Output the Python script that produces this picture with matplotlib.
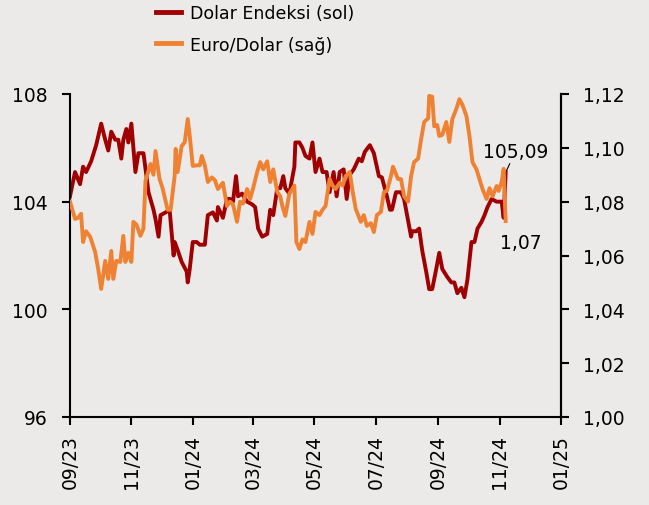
import matplotlib
matplotlib.use("Agg")
import matplotlib.pyplot as plt
import matplotlib.dates as mdates
import pandas as pd

# Dolar Endeksi (sol eksen)
dxy_dates = [
    "2023-09-01", "2023-09-06", "2023-09-11", "2023-09-14", "2023-09-17", "2023-09-22",
    "2023-09-27", "2023-10-02", "2023-10-06", "2023-10-09", "2023-10-12", "2023-10-16",
    "2023-10-19", "2023-10-22", "2023-10-24", "2023-10-27", "2023-10-29", "2023-11-01",
    "2023-11-05", "2023-11-08", "2023-11-13", "2023-11-16", "2023-11-18", "2023-11-23",
    "2023-11-25", "2023-11-28", "2023-11-30", "2023-12-05", "2023-12-09", "2023-12-13",
    "2023-12-14", "2023-12-17", "2023-12-21", "2023-12-26", "2023-12-27", "2023-12-29",
    "2024-01-01", "2024-01-05", "2024-01-08", "2024-01-13", "2024-01-16", "2024-01-21",
    "2024-01-25", "2024-01-26", "2024-01-31", "2024-02-04", "2024-02-07", "2024-02-10",
    "2024-02-13", "2024-02-15", "2024-02-19", "2024-02-24", "2024-02-29", "2024-03-03",
    "2024-03-06", "2024-03-10", "2024-03-15", "2024-03-18", "2024-03-21", "2024-03-25",
    "2024-03-28", "2024-03-31", "2024-04-02", "2024-04-06", "2024-04-11", "2024-04-12",
    "2024-04-16", "2024-04-19", "2024-04-22", "2024-04-26", "2024-04-29", "2024-05-02",
    "2024-05-06", "2024-05-09", "2024-05-13", "2024-05-16", "2024-05-20", "2024-05-23",
    "2024-05-26", "2024-05-30", "2024-06-02", "2024-06-05", "2024-06-09", "2024-06-14",
    "2024-06-17", "2024-06-20", "2024-06-25", "2024-06-29", "2024-07-04", "2024-07-07",
    "2024-07-12", "2024-07-15", "2024-07-17", "2024-07-21", "2024-07-26", "2024-07-29",
    "2024-08-01", "2024-08-05", "2024-08-06", "2024-08-10", "2024-08-13", "2024-08-16",
    "2024-08-20", "2024-08-23", "2024-08-26", "2024-08-30", "2024-09-02", "2024-09-05",
    "2024-09-10", "2024-09-14", "2024-09-17", "2024-09-20", "2024-09-24", "2024-09-27",
    "2024-09-30", "2024-10-04", "2024-10-07", "2024-10-10", "2024-10-14", "2024-10-17",
    "2024-10-20", "2024-10-24", "2024-10-29", "2024-11-03", "2024-11-05", "2024-11-07",
]
dxy_values = [
    104.2, 105.1, 104.65, 105.3, 105.1, 105.5,
    106.1, 106.9, 106.3, 105.9, 106.6, 106.3,
    106.3, 105.6, 106.3, 106.7, 106.2, 106.9,
    105.1, 105.8, 105.8, 104.95, 104.35, 103.7,
    103.35, 102.7, 103.5, 103.6, 103.7, 102.0,
    102.5, 102.2, 101.76, 101.4, 101.0, 101.5,
    102.5, 102.5, 102.4, 102.4, 103.5, 103.6,
    103.3, 103.8, 103.4, 104.1, 104.1, 104.0,
    104.95, 104.2, 104.3, 104.0, 103.9, 103.8,
    103.0, 102.7, 102.8, 103.7, 103.5, 104.5,
    104.5, 104.95, 104.5, 104.3, 105.3, 106.2,
    106.2, 106.0, 105.7, 105.6, 106.2, 105.1,
    105.6, 105.1, 105.1, 104.35, 105.1, 104.2,
    105.1, 105.2, 104.1, 105.0, 105.2, 105.6,
    105.5, 105.85, 106.1, 105.8, 104.95, 104.9,
    104.2, 103.7, 103.7, 104.35, 104.35, 104.1,
    103.5, 102.7, 102.9, 102.9, 103.0, 102.2,
    101.4, 100.75, 100.75, 101.5, 102.1, 101.5,
    101.2, 101.0, 101.0, 100.6, 100.8, 100.45,
    101.1, 102.5, 102.5, 103.0, 103.25, 103.5,
    103.8, 104.1, 104.0, 104.0, 103.4, 105.09,
]

# Euro/Dolar (sag eksen)
eur_dates = [
    "2023-09-01", "2023-09-06", "2023-09-09", "2023-09-12", "2023-09-14", "2023-09-17",
    "2023-09-21", "2023-09-26", "2023-09-29", "2023-10-02", "2023-10-06", "2023-10-09",
    "2023-10-12", "2023-10-14", "2023-10-17", "2023-10-21", "2023-10-24", "2023-10-26",
    "2023-10-29", "2023-11-01", "2023-11-03", "2023-11-06", "2023-11-10", "2023-11-13",
    "2023-11-15", "2023-11-20", "2023-11-23", "2023-11-25", "2023-11-29", "2023-12-02",
    "2023-12-07", "2023-12-10", "2023-12-14", "2023-12-15", "2023-12-17", "2023-12-21",
    "2023-12-24", "2023-12-27", "2023-12-29", "2024-01-01", "2024-01-05", "2024-01-08",
    "2024-01-10", "2024-01-13", "2024-01-16", "2024-01-20", "2024-01-23", "2024-01-26",
    "2024-01-31", "2024-02-04", "2024-02-07", "2024-02-10", "2024-02-14", "2024-02-17",
    "2024-02-20", "2024-02-24", "2024-02-27", "2024-03-01", "2024-03-05", "2024-03-08",
    "2024-03-11", "2024-03-15", "2024-03-18", "2024-03-21", "2024-03-25", "2024-03-28",
    "2024-03-30", "2024-04-02", "2024-04-06", "2024-04-09", "2024-04-11", "2024-04-13",
    "2024-04-16", "2024-04-19", "2024-04-22", "2024-04-26", "2024-04-29", "2024-05-02",
    "2024-05-06", "2024-05-09", "2024-05-12", "2024-05-16", "2024-05-19", "2024-05-22",
    "2024-05-26", "2024-05-29", "2024-06-01", "2024-06-05", "2024-06-08", "2024-06-11",
    "2024-06-16", "2024-06-19", "2024-06-22", "2024-06-26", "2024-06-29", "2024-07-02",
    "2024-07-06", "2024-07-09", "2024-07-12", "2024-07-16", "2024-07-18", "2024-07-23",
    "2024-07-26", "2024-07-29", "2024-08-02", "2024-08-05", "2024-08-08", "2024-08-12",
    "2024-08-15", "2024-08-18", "2024-08-22", "2024-08-23", "2024-08-26", "2024-08-28",
    "2024-08-31", "2024-09-02", "2024-09-05", "2024-09-09", "2024-09-12", "2024-09-15",
    "2024-09-19", "2024-09-22", "2024-09-25", "2024-09-29", "2024-10-02", "2024-10-05",
    "2024-10-09", "2024-10-12", "2024-10-15", "2024-10-19", "2024-10-22", "2024-10-25",
    "2024-10-29", "2024-10-31", "2024-11-03", "2024-11-05", "2024-11-07",
]
eur_values = [
    1.080, 1.0736, 1.074, 1.0755, 1.065, 1.069,
    1.067, 1.0613, 1.055, 1.0476, 1.058, 1.0513,
    1.0617, 1.0513, 1.058, 1.0576, 1.0673, 1.0576,
    1.061, 1.0576, 1.0725, 1.0715, 1.0673, 1.070,
    1.0877, 1.094, 1.090, 1.0988, 1.0884, 1.085,
    1.077, 1.077, 1.0895, 1.0996, 1.091, 1.1007,
    1.102, 1.1107, 1.1044, 1.0933, 1.0935, 1.0935,
    1.097, 1.0935, 1.0873, 1.089, 1.088, 1.0847,
    1.087, 1.0784, 1.080, 1.079, 1.0725, 1.080,
    1.0793, 1.0847, 1.081, 1.085, 1.091, 1.0947,
    1.092, 1.095, 1.0873, 1.092, 1.0836, 1.082,
    1.0784, 1.0747, 1.083, 1.0847, 1.086, 1.065,
    1.0624, 1.066, 1.065, 1.0725, 1.068, 1.0762,
    1.075, 1.077, 1.0784, 1.0884, 1.086, 1.0847,
    1.087, 1.086, 1.0895, 1.091, 1.0836, 1.0773,
    1.0725, 1.075, 1.071, 1.072, 1.0687, 1.075,
    1.0762, 1.0836, 1.084, 1.0895, 1.093, 1.0884,
    1.0884, 1.082, 1.080, 1.0895, 1.0947, 1.096,
    1.1033, 1.1096, 1.111, 1.1193, 1.119, 1.108,
    1.1085, 1.1044, 1.1048, 1.1096, 1.1022, 1.1107,
    1.1145, 1.1181, 1.116, 1.1118, 1.1044, 1.0947,
    1.092, 1.0884, 1.0847, 1.081, 1.085, 1.082,
    1.0858, 1.084, 1.0873, 1.0922, 1.0728,
]

left_ticks = [96, 100, 104, 108]
right_ticks = [1.00, 1.02, 1.04, 1.06, 1.08, 1.10, 1.12]
x_ticks = ["2023-09-01", "2023-11-01", "2024-01-01", "2024-03-01", "2024-05-01",
           "2024-07-01", "2024-09-01", "2024-11-01", "2025-01-01"]

bg = "#ECEAE9"
red = "#A00000"
orange = "#EF8133"

plt.rcParams["font.family"] = ["DejaVu Sans"]

fig = plt.figure(figsize=(6.49, 5.06), dpi=100, facecolor=bg)
ax = fig.add_axes([70 / 649, 1 - 418 / 506, (561 - 70) / 649, (418 - 95) / 506])
ax.set_facecolor(bg)
ax2 = ax.twinx()

d1 = pd.to_datetime(dxy_dates)
d2 = pd.to_datetime(eur_dates)
l1, = ax.plot(d1, dxy_values, color=red, lw=2.8, solid_joinstyle="round")
l2, = ax2.plot(d2, eur_values, color=orange, lw=2.8, solid_joinstyle="round")

ax.set_ylim(96, 108)
ax2.set_ylim(1.00, 1.12)
ax.set_xlim(pd.Timestamp("2023-09-01"), pd.Timestamp("2025-01-01"))

ax.set_yticks(left_ticks)
ax.set_yticklabels([str(t) for t in left_ticks])
ax2.set_yticks(right_ticks)
ax2.set_yticklabels([f"{t:.2f}".replace(".", ",") for t in right_ticks])
ax.set_xticks(pd.to_datetime(x_ticks))
ax.xaxis.set_major_formatter(mdates.DateFormatter("%m/%y"))

for a in (ax, ax2):
    a.spines["top"].set_visible(False)
    for s in a.spines.values():
        s.set_linewidth(1.5)
    a.tick_params(direction="out", length=6, width=1.5, labelsize=13.5, pad=10)
ax2.spines["left"].set_visible(False)
ax2.spines["bottom"].set_visible(False)
ax.tick_params(axis="x", rotation=90, pad=6)

# son deger etiketleri
ax.annotate("105,09", xy=(d1[-1], dxy_values[-1]), xytext=(10, 21),
            textcoords="offset pixels", ha="center", va="center", fontsize=13.5,
            arrowprops=dict(arrowstyle="-", lw=0.8, color="black", shrinkA=8, shrinkB=1))
ax2.annotate("1,07", xy=(d2[-1], eur_values[-1]), xytext=(15, -21),
             textcoords="offset pixels", ha="center", va="center", fontsize=13.5)

fig.legend([l1, l2], ["Dolar Endeksi (sol)", "Euro/Dolar (sağ)"],
           loc="center left", bbox_to_anchor=(156 / 649, 1 - 30 / 506),
           frameon=False, fontsize=12.5, handlelength=1.45, handletextpad=0.5,
           labelspacing=0.75, borderpad=0, borderaxespad=0)
for h in fig.legends[0].get_lines():
    h.set_linewidth(3.5)

fig.savefig("out.png", dpi=100, facecolor=bg)
